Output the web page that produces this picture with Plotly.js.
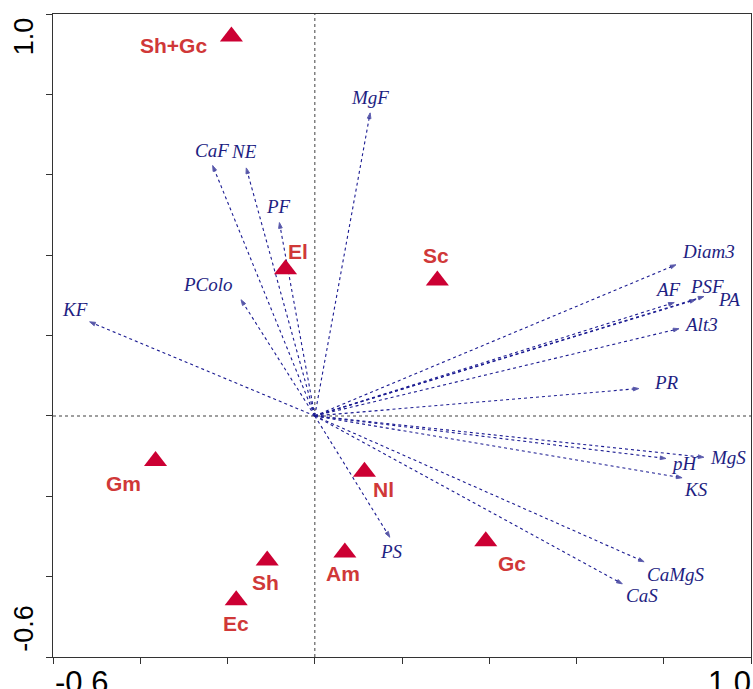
<!DOCTYPE html>
<html>
<head>
<meta charset="utf-8">
<script src="https://cdn.plot.ly/plotly-3.0.1.min.js"></script>
<style>html,body{margin:0;padding:0;background:#fff;}#chart{width:753px;height:689px;}</style>
</head>
<body>
<div id="chart"></div>
<script>
// Environmental variables (arrows)
const arrowNames = ["MgF","CaF","NE","PF","PColo","KF","Diam3","AF","PSF","PA","Alt3","PR","MgS","pH","KS","CaMgS","CaS","PS"];
const arrowX = [0.127,-0.234,-0.157,-0.081,-0.169,-0.516,0.828,0.824,0.873,0.892,0.835,0.743,0.892,0.805,0.842,0.755,0.705,0.172];
const arrowY = [0.754,0.623,0.617,0.481,0.289,0.234,0.376,0.282,0.289,0.297,0.217,0.068,-0.103,-0.106,-0.154,-0.363,-0.418,-0.302];

// Sites (triangles)
const siteNames = ["Sh+Gc","El","Sc","Gm","Sh","Ec","Nl","Am","Gc"];
const siteX = [-0.191,-0.067,0.281,-0.365,-0.109,-0.180,0.114,0.069,0.392];
const siteY = [0.944,0.365,0.337,-0.112,-0.360,-0.459,-0.139,-0.340,-0.312];

// Axis end labels
const axisLabels = ["-0.6","1.0"];

// Label offsets in pixels (style only)
const arrowLabDx = [0,-1,-2,-1,-33,-15,33,-6,11,25,22,28,24,19,14,32,20,2];
const arrowLabDy = [-15,-15,-16,-16,-15,-12,-13,-13,-13,3,-4,-6,0,5,12,13,12,14];
const siteLabDx = [-58,12,-1,-32,-2,0,19,-2,26];
const siteLabDy = [9,-18,-25,23,22,23,18,21,22];

const traces = [];
arrowNames.forEach((n,i)=>{
  traces.push({
    type:'scatter', mode:'lines+markers',
    x:[0, arrowX[i]], y:[0, arrowY[i]],
    line:{color:'#1c1c92', width:1.1, dash:'3px,3px'},
    marker:{symbol:'arrow', size:[0,6], angleref:'previous', color:'#10107a'},
    hoverinfo:'skip', showlegend:false, cliponaxis:false
  });
});
traces.push({
  type:'scatter', mode:'markers',
  x:siteX, y:siteY,
  marker:{symbol:'triangle-up', size:20, color:'#cc0033', line:{width:0}},
  hoverinfo:'skip', showlegend:false
});

const annotations = [];
arrowNames.forEach((n,i)=>{
  annotations.push({
    x:arrowX[i], y:arrowY[i], xref:'x', yref:'y', text:n, showarrow:false,
    xshift:arrowLabDx[i], yshift:-arrowLabDy[i],
    xanchor:'center', yanchor:'middle',
    font:{family:'"Liberation Serif","Times New Roman",serif', size:19, color:'#1e1e82', style:'italic'}
  });
});
siteNames.forEach((n,i)=>{
  annotations.push({
    x:siteX[i], y:siteY[i], xref:'x', yref:'y', text:'<b>'+n+'</b>', showarrow:false,
    xshift:siteLabDx[i], yshift:-siteLabDy[i],
    xanchor:'center', yanchor:'middle',
    font:{family:'"Liberation Sans",Arial,sans-serif', size:21, color:'#d03838'}
  });
});
const leftFont = {family:'"Liberation Sans",Arial,sans-serif', size:27, color:'#000'};
const bottomFont = {family:'"Liberation Sans",Arial,sans-serif', size:31, color:'#000'};
annotations.push({xref:'paper', yref:'paper', x:-0.042, y:0.965, text:axisLabels[1], textangle:-90, showarrow:false, xanchor:'center', yanchor:'middle', font:leftFont});
annotations.push({xref:'paper', yref:'paper', x:-0.042, y:0.045, text:axisLabels[0], textangle:-90, showarrow:false, xanchor:'center', yanchor:'middle', font:leftFont});
annotations.push({xref:'paper', yref:'paper', x:0, y:-0.039, text:axisLabels[0], showarrow:false, xanchor:'left', yanchor:'middle', font:bottomFont});
annotations.push({xref:'paper', yref:'paper', x:1.003, y:-0.039, text:axisLabels[1], showarrow:false, xanchor:'right', yanchor:'middle', font:bottomFont});

const axisCommon = {
  range:[-0.6,1.0], dtick:0.2, tick0:0, ticks:'outside', ticklen:6, tickwidth:1, tickcolor:'#333',
  showticklabels:false, showgrid:false, zeroline:false,
  showline:true, linecolor:'#333', linewidth:1, mirror:true, fixedrange:true
};

const layout = {
  width:753, height:689,
  margin:{l:53, r:2, t:14, b:32},
  paper_bgcolor:'#fff', plot_bgcolor:'#fff',
  xaxis:Object.assign({}, axisCommon),
  yaxis:Object.assign({}, axisCommon),
  shapes:[
    {type:'line', xref:'x', yref:'paper', x0:0, x1:0, y0:0, y1:1, line:{color:'#808080', width:1.5, dash:'dot'}, layer:'below'},
    {type:'line', xref:'paper', yref:'y', x0:0, x1:1, y0:0, y1:0, line:{color:'#808080', width:1.5, dash:'dot'}, layer:'below'}
  ],
  annotations:annotations,
  showlegend:false
};

Plotly.newPlot('chart', traces, layout, {displayModeBar:false, staticPlot:true});
</script>
</body>
</html>
